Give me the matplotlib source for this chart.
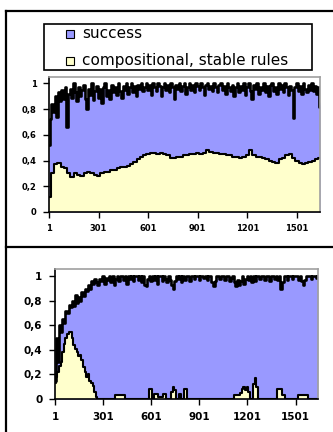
import matplotlib.pyplot as plt
import numpy as np
from matplotlib.patches import Rectangle
from matplotlib.lines import Line2D

# top panel: success (every 10 steps) and compositional, stable rules (every 20 steps)
top_success = [
    0.52, 0.72, 0.84, 0.78, 0.90, 0.74, 0.93, 0.86, 0.95, 0.88,
    0.97, 0.66, 0.92, 0.96, 0.89, 1.00, 0.93, 0.86, 0.97, 0.90,
    0.95, 0.99, 0.88, 0.80, 0.96, 0.91, 1.00, 0.87, 0.94, 0.98,
    0.89, 0.96, 0.85, 0.97, 1.00, 0.90, 0.95, 0.88, 0.99, 0.93,
    0.97, 0.91, 1.00, 0.94, 0.89, 0.98, 0.95, 1.00, 0.92, 0.97,
    1.00, 0.93, 0.98, 0.90, 0.99, 0.96, 1.00, 0.94, 0.97, 1.00,
    0.95, 0.99, 0.91, 1.00, 0.97, 0.94, 1.00, 0.98, 0.90, 0.97,
    1.00, 0.95, 0.99, 0.93, 1.00, 0.97, 0.88, 0.99, 0.96, 1.00,
    0.94, 0.98, 1.00, 0.92, 0.97, 1.00, 0.95, 0.99, 0.93, 1.00,
    0.98, 0.95, 1.00, 0.97, 0.91, 0.99, 1.00, 0.96, 0.98, 0.94,
    1.00, 0.97, 0.93, 0.99, 1.00, 0.95, 0.98, 0.92, 1.00, 0.97,
    0.94, 0.99, 0.90, 0.97, 1.00, 0.93, 0.98, 0.95, 1.00, 0.91,
    0.97, 1.00, 0.94, 0.88, 0.99, 0.96, 1.00, 0.92, 0.97, 0.95,
    1.00, 0.93, 0.98, 0.90, 0.99, 1.00, 0.94, 0.97, 0.92, 1.00,
    0.96, 0.99, 0.93, 1.00, 0.97, 0.91, 0.98, 0.95, 0.73, 0.97,
    1.00, 0.94, 0.98, 0.92, 1.00, 0.96, 0.93, 0.99, 0.95, 1.00,
    0.94, 0.98, 0.92, 0.97, 0.82,
]
top_comp = [
    0.12, 0.30, 0.37, 0.38, 0.35, 0.34, 0.30, 0.27, 0.30, 0.29,
    0.28, 0.30, 0.31, 0.30, 0.29, 0.28, 0.30, 0.31, 0.31, 0.33,
    0.33, 0.34, 0.35, 0.35, 0.36, 0.37, 0.39, 0.41, 0.43, 0.44,
    0.45, 0.46, 0.46, 0.45, 0.46, 0.45, 0.44, 0.42, 0.42, 0.43,
    0.43, 0.44, 0.44, 0.45, 0.45, 0.46, 0.45, 0.46, 0.48, 0.47,
    0.46, 0.46, 0.45, 0.45, 0.44, 0.44, 0.43, 0.43, 0.42, 0.43,
    0.44, 0.48, 0.44, 0.43, 0.43, 0.42, 0.41, 0.40, 0.39, 0.38,
    0.41, 0.42, 0.44, 0.45, 0.42, 0.40, 0.38, 0.37, 0.38, 0.39,
    0.40, 0.41, 0.42,
]

# bottom panel, every 10 steps
bot_success = [
    0.15, 0.50, 0.30, 0.60, 0.55, 0.65, 0.62, 0.72, 0.70, 0.77,
    0.75, 0.80, 0.76, 0.85, 0.78, 0.83, 0.80, 0.87, 0.84, 0.90,
    0.88, 0.93, 0.90, 0.96, 0.94, 0.98, 0.95, 0.93, 0.98, 0.96,
    1.00, 0.94, 0.99, 0.97, 1.00, 0.95, 1.00, 0.93, 0.98, 1.00,
    0.96, 1.00, 1.00, 0.97, 1.00, 0.94, 1.00, 0.98, 1.00, 0.96,
    1.00, 1.00, 0.97, 1.00, 0.95, 1.00, 0.93, 0.92, 0.98, 1.00,
    0.96, 1.00, 0.97, 1.00, 0.94, 1.00, 1.00, 0.96, 1.00, 0.98,
    0.95, 1.00, 0.97, 0.93, 0.90, 0.96, 1.00, 0.98, 1.00, 0.95,
    1.00, 0.97, 1.00, 1.00, 0.96, 1.00, 1.00, 0.98, 1.00, 1.00,
    0.97, 1.00, 1.00, 0.99, 1.00, 0.97, 1.00, 1.00, 0.95, 0.92,
    0.96, 1.00, 1.00, 0.98, 1.00, 1.00, 0.97, 1.00, 1.00, 0.96,
    0.99, 1.00, 0.95, 0.92, 0.97, 0.93, 0.96, 1.00, 0.94, 0.98,
    1.00, 0.97, 1.00, 0.95, 1.00, 0.96, 1.00, 1.00, 0.98, 1.00,
    1.00, 0.97, 1.00, 1.00, 0.96, 1.00, 1.00, 0.98, 1.00, 0.97,
    1.00, 0.90, 0.95, 1.00, 1.00, 0.97, 1.00, 1.00, 0.98, 1.00,
    1.00, 1.00, 0.97, 1.00, 0.96, 0.93, 0.97, 1.00, 1.00, 1.00,
    0.98, 1.00, 1.00, 0.99, 1.00,
]
bot_comp = [
    0.13, 0.18, 0.22, 0.27, 0.30, 0.38, 0.45, 0.50, 0.53, 0.55,
    0.55, 0.50, 0.44, 0.41, 0.38, 0.35, 0.36, 0.32, 0.26, 0.22,
    0.18, 0.20, 0.15, 0.13, 0.11, 0.06, 0.02, 0.00, 0.00, 0.00,
    0.00, 0.00, 0.00, 0.00, 0.00, 0.00, 0.00, 0.00, 0.03, 0.03,
    0.03, 0.03, 0.03, 0.03, 0.00, 0.00, 0.00, 0.00, 0.00, 0.00,
    0.00, 0.00, 0.00, 0.00, 0.00, 0.00, 0.00, 0.00, 0.00, 0.08,
    0.08, 0.00, 0.04, 0.04, 0.04, 0.02, 0.02, 0.02, 0.04, 0.04,
    0.00, 0.00, 0.00, 0.06, 0.10, 0.07, 0.00, 0.00, 0.04, 0.00,
    0.00, 0.08, 0.08, 0.00, 0.00, 0.00, 0.00, 0.00, 0.00, 0.00,
    0.00, 0.00, 0.00, 0.00, 0.00, 0.00, 0.00, 0.00, 0.00, 0.00,
    0.00, 0.00, 0.00, 0.00, 0.00, 0.00, 0.00, 0.00, 0.00, 0.00,
    0.00, 0.00, 0.03, 0.03, 0.03, 0.03, 0.05, 0.08, 0.10, 0.07,
    0.10, 0.06, 0.00, 0.00, 0.12, 0.17, 0.10, 0.00, 0.00, 0.00,
    0.00, 0.00, 0.00, 0.00, 0.00, 0.00, 0.00, 0.00, 0.00, 0.08,
    0.08, 0.08, 0.03, 0.03, 0.00, 0.00, 0.00, 0.00, 0.00, 0.00,
    0.00, 0.00, 0.03, 0.03, 0.03, 0.03, 0.03, 0.03, 0.00, 0.00,
    0.00, 0.00, 0.00, 0.00, 0.00,
]

xticks = [1, 301, 601, 901, 1201, 1501]
yticks = [0, 0.2, 0.4, 0.6, 0.8, 1]
yticklabels = ["0", "0,2", "0,4", "0,6", "0,8", "1"]
labels = ["success", "compositional, stable rules"]

BLUE = "#9999ff"
YELLOW = "#ffffcc"

W, H = 333, 432
fig = plt.figure(figsize=(W / 100, H / 100), dpi=100)


def box(l, t, r, b):
    return [l / W, 1 - b / H, (r - l) / W, (b - t) / H]


def steps(vals, step):
    return 1 + step * np.arange(len(vals))


def panel(ax, succ, comp, cstep, ytop, fs):
    xs = steps(succ, 10)
    xc = steps(comp, cstep)
    ax.fill_between(xs, 0, succ, color=BLUE, lw=0)
    ax.plot(xs, succ, color="black", lw=1.9, drawstyle="steps-mid")
    ax.fill_between(xc, 0, comp, color=YELLOW, lw=0, step="mid")
    ax.plot(xc, comp, color="black", lw=1.5, drawstyle="steps-mid")
    ax.set_xlim(1, xs[-1])
    ax.set_ylim(0, ytop)
    ax.set_xticks(xticks)
    ax.set_xticklabels([str(v) for v in xticks])
    ax.set_yticks(yticks)
    ax.set_yticklabels(yticklabels)
    ax.tick_params(direction="out", length=4, width=1, labelsize=fs, pad=5)
    for lab in ax.get_xticklabels() + ax.get_yticklabels():
        lab.set_fontweight("bold")
    for s in ["left", "bottom"]:
        ax.spines[s].set_color("black")
        ax.spines[s].set_linewidth(1.2)
    for s in ["top", "right"]:
        ax.spines[s].set_color("#a0a0a0")
        ax.spines[s].set_linewidth(1.2)


ax1 = fig.add_axes(box(49, 77, 320, 212))
panel(ax1, top_success, top_comp, 20, 1.05, 6)

ax2 = fig.add_axes(box(55, 269, 318, 399))
panel(ax2, bot_success, bot_comp, 10, 1.06, 7.5)

# outer frames
for (x0, y0, x1, y1) in [(6, 11, 333, 11), (6, 11, 6, 432), (6, 247, 333, 247)]:
    fig.add_artist(Line2D([x0 / W, x1 / W], [1 - y0 / H, 1 - y1 / H],
                          color="black", lw=1.6))

# legend box
fig.add_artist(Rectangle((44 / W, 1 - 70 / H), (312 - 44) / W, (70 - 24) / H,
                         transform=fig.transFigure, fill=False,
                         ec="black", lw=1.2))
for lab, col, yy in zip(labels, [BLUE, YELLOW], [34, 61]):
    fig.add_artist(Rectangle((66 / W, 1 - (yy + 4) / H), 8 / W, 8 / H,
                             transform=fig.transFigure, fc=col,
                             ec="black", lw=0.8))
    fig.text(82 / W, 1 - yy / H, lab, fontsize=11, va="center", ha="left")

fig.savefig("out.png", dpi=100)
